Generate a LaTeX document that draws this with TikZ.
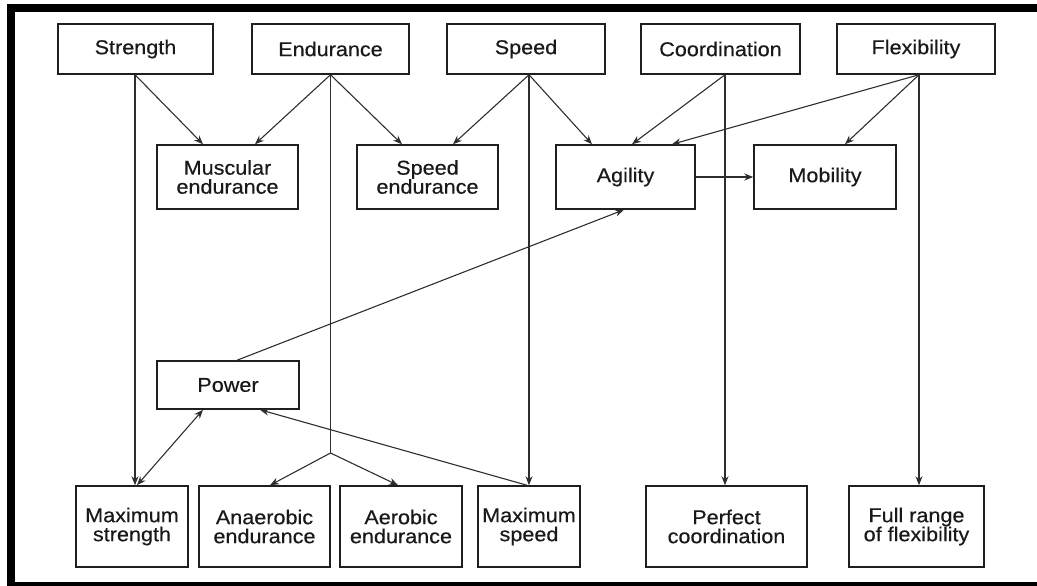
\documentclass[tikz,border=0pt]{standalone}
\usepackage{fontspec}
\setmainfont[FakeStretch=1.08,FakeBold=0.4]{Liberation Sans}
\usetikzlibrary{arrows.meta}
\begin{document}
\begin{tikzpicture}[x=1pt,y=-1pt,
  box/.style={draw=black!88,line width=1.5pt,rectangle,inner sep=0pt,align=center,
    text=black!90,font=\fontsize{20}{19}\selectfont},
  tip/.tip={Stealth[length=9pt,width=7pt]},
  link/.style={draw=black!82,line width=1.1pt,-tip},
  plain/.style={draw=black!82,line width=1.1pt},
  both/.style={draw=black!82,line width=1.1pt,tip-tip}]
\useasboundingbox (0,0) rectangle (1037,586);
% frame
\fill[black] (7,4) rectangle (1037,12);
\fill[black] (7,4) rectangle (15,586);
\fill[black] (7,582) rectangle (1037,586);
% top row
\node[box,minimum width=155pt,minimum height=50pt] (str) at (135.5,49) {Strength};
\node[box,minimum width=157pt,minimum height=50pt] (end) at (330.5,49) {Endurance};
\node[box,minimum width=158pt,minimum height=50pt] (spd) at (526,49) {Speed};
\node[box,minimum width=159pt,minimum height=50pt] (coo) at (720.5,49) {Coordination};
\node[box,minimum width=158pt,minimum height=50pt] (flx) at (916,49) {Flexibility};
% middle row
\node[box,minimum width=141pt,minimum height=64pt] (mus) at (227.5,177) {Muscular\\endurance};
\node[box,minimum width=141pt,minimum height=64pt] (spe) at (427.5,177) {Speed\\endurance};
\node[box,minimum width=139pt,minimum height=64pt] (agi) at (625.5,177) {Agility};
\node[box,minimum width=142pt,minimum height=64pt] (mob) at (825,177) {Mobility};
\node[box,minimum width=142pt,minimum height=48pt] (pow) at (228,385) {Power};
% bottom row
\node[box,minimum width=112pt,minimum height=81pt] (mxs) at (132,526.5) {Maximum\\strength};
\node[box,minimum width=131pt,minimum height=81pt] (ana) at (264.5,526.5) {Anaerobic\\endurance};
\node[box,minimum width=122pt,minimum height=81pt] (aer) at (401,526.5) {Aerobic\\endurance};
\node[box,minimum width=102pt,minimum height=81pt] (mxp) at (529,526.5) {Maximum\\speed};
\node[box,minimum width=161pt,minimum height=81pt] (per) at (726.5,526.5) {Perfect\\coordination};
\node[box,minimum width=135pt,minimum height=81pt] (ful) at (916.5,526.5) {Full range\\of flexibility};
% strength
\draw[link] ([xshift=-0.5pt]str.south) -- ([xshift=3pt]mxs.north);
\draw[link] ([xshift=-0.5pt]str.south) -- ([xshift=-24.5pt]mus.north);
% endurance
\coordinate (split) at (330.5,453);
\draw[link] (end.south) -- ([xshift=27.5pt]mus.north);
\draw[link] (end.south) -- ([xshift=-25.5pt]spe.north);
\draw[plain] (end.south) -- (split);
\draw[link] (split) -- ([xshift=5.5pt]ana.north);
\draw[link] (split) -- ([xshift=-3pt]aer.north);
% speed
\draw[link] ([xshift=3pt]spd.south) -- ([xshift=25.5pt]spe.north);
\draw[link] ([xshift=3pt]spd.south) -- ([xshift=-33.5pt]agi.north);
\draw[link] ([xshift=3pt]spd.south) -- (mxp.north);
% coordination
\draw[link] ([xshift=4.5pt]coo.south) -- ([xshift=6.5pt]agi.north);
\draw[link] ([xshift=4.5pt]coo.south) -- ([xshift=-1.5pt]per.north);
% flexibility
\draw[link] ([xshift=3pt]flx.south) -- ([xshift=46.5pt]agi.north);
\draw[link] ([xshift=3pt]flx.south) -- ([xshift=20pt]mob.north);
\draw[link] ([xshift=3pt]flx.south) -- ([xshift=2.5pt]ful.north);
% agility, power
\draw[link] (agi.east) -- (mob.west);
\draw[link] ([xshift=9pt]pow.north) -- ([xshift=-1.5pt]agi.south);
\draw[both] ([xshift=5pt]mxs.north) -- ([xshift=-25pt]pow.south);
\draw[link] ([xshift=-2pt]mxp.north) -- ([xshift=32pt]pow.south);
\end{tikzpicture}
\end{document}
